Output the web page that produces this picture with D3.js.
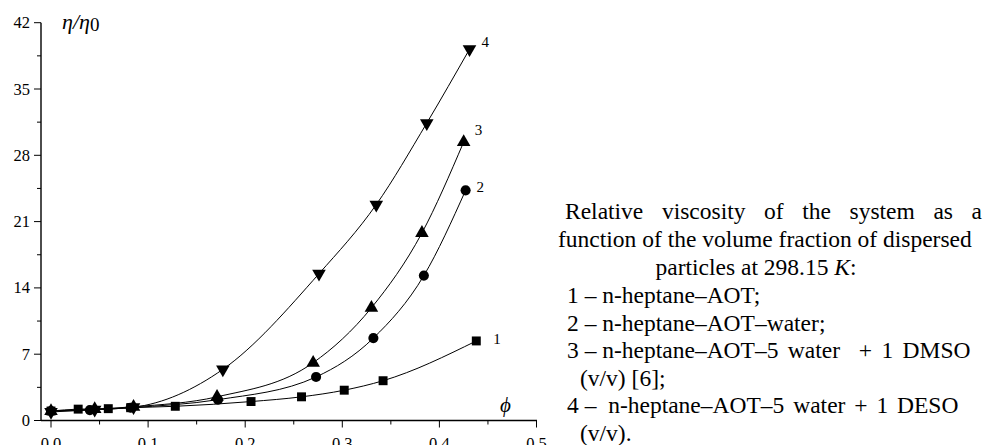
<!DOCTYPE html>
<html>
<head>
<meta charset="utf-8">
<script src="https://cdn.jsdelivr.net/npm/d3@7"></script>
<style>
  body { margin: 0; background: #fff; }
  svg { display: block; font-family: "Liberation Serif", "Times New Roman", serif; }
</style>
</head>
<body>
<svg id="chart" width="985" height="445"></svg>
<script>
// Volume fraction (phi) and relative viscosity for each system
const phi1 = [0, 0.028, 0.059, 0.082, 0.128, 0.206, 0.258, 0.302, 0.342, 0.438];
const eta1 = [1.0, 1.2, 1.25, 1.35, 1.5, 2.0, 2.5, 3.2, 4.2, 8.4];

const phi2 = [0, 0.04, 0.082, 0.172, 0.273, 0.332, 0.384, 0.427];
const eta2 = [1.0, 1.1, 1.35, 2.2, 4.6, 8.7, 15.3, 24.3];

const phi3 = [0, 0.045, 0.085, 0.171, 0.27, 0.33, 0.382, 0.425];
const eta3 = [1.0, 1.2, 1.45, 2.5, 6.1, 11.9, 19.8, 29.4];

const phi4 = [0, 0.045, 0.085, 0.177, 0.276, 0.335, 0.387, 0.431];
const eta4 = [0.9, 1.15, 1.4, 5.4, 15.5, 22.8, 31.4, 39.2];

const seriesNames = ['1', '2', '3', '4'];
const xTicks = [0, 0.1, 0.2, 0.3, 0.4, 0.5];
const yTicks = [0, 7, 14, 21, 28, 35, 42];

const caption = [
    'Relative viscosity of the system as a',
    'function of the volume fraction of dispersed'
];
// each legend line: [head, tail]; the tail is set with wider word gaps
const legendLines = [
    ['1 – n-heptane–AOT;', ''],
    ['2 – n-heptane–AOT–water;', ''],
    ['3 – n-heptane–AOT–', '5 water  + 1 DMSO'],
    ['(v/v) [6];', ''],
    ['4 –  n-heptane–AOT–', '5 water + 1 DESO'],
    ['(v/v).', '']
];

const svg = d3.select('#chart');

const x = d3.scaleLinear().domain([0, 0.5]).range([51, 536.5]);
const y = d3.scaleLinear().domain([0, 42]).range([420.5, 22.7]);

// x axis line (starts at the y axis)
svg.append('line')
    .attr('x1', 41).attr('x2', 537)
    .attr('y1', y(0)).attr('y2', y(0))
    .attr('stroke', '#000').attr('stroke-width', 1.4);

// y axis line
svg.append('line')
    .attr('x1', 41).attr('x2', 41)
    .attr('y1', y(0)).attr('y2', y(42))
    .attr('stroke', '#000').attr('stroke-width', 1.4);

// x ticks
const xMinor = d3.range(0.05, 0.5, 0.1);
svg.selectAll('.xt').data(xTicks).enter().append('line')
    .attr('x1', d => x(d)).attr('x2', d => x(d))
    .attr('y1', y(0)).attr('y2', y(0) + 7)
    .attr('stroke', '#000');
svg.selectAll('.xm').data(xMinor).enter().append('line')
    .attr('x1', d => x(d)).attr('x2', d => x(d))
    .attr('y1', y(0)).attr('y2', y(0) + 4)
    .attr('stroke', '#000');
svg.selectAll('.xl').data(xTicks).enter().append('text')
    .attr('x', d => x(d)).attr('y', 448.5)
    .attr('text-anchor', 'middle')
    .attr('font-size', 16.5)
    .text(d => d.toFixed(1));

// y ticks
const yMinor = d3.range(3.5, 42, 7);
svg.selectAll('.yt').data(yTicks).enter().append('line')
    .attr('x1', 34).attr('x2', 41)
    .attr('y1', d => y(d)).attr('y2', d => y(d))
    .attr('stroke', '#000');
svg.selectAll('.ym').data(yMinor).enter().append('line')
    .attr('x1', 37).attr('x2', 41)
    .attr('y1', d => y(d)).attr('y2', d => y(d))
    .attr('stroke', '#000');
svg.selectAll('.yl').data(yTicks).enter().append('text')
    .attr('x', 30).attr('y', d => y(d) + 5.5)
    .attr('text-anchor', 'end')
    .attr('font-size', 16.5)
    .text(d => d);

// axis titles
const yTitle = svg.append('text')
    .attr('x', 62).attr('y', 29)
    .attr('font-size', 22)
    .attr('font-style', 'italic');
yTitle.append('tspan').text('η/η');
yTitle.append('tspan').attr('font-style', 'normal').attr('font-size', 19).attr('dy', 2).text('0');

svg.append('text')
    .attr('x', 500).attr('y', 412)
    .attr('font-size', 21)
    .attr('font-style', 'italic')
    .text('ϕ');

// series
const series = [
    { phi: phi1, eta: eta1, symbol: d3.symbolSquare, size: 80, rot: 0, lx: 17, ly: 3 },
    { phi: phi2, eta: eta2, symbol: d3.symbolCircle, size: 80, rot: 0, lx: 11, ly: 2 },
    { phi: phi3, eta: eta3, symbol: d3.symbolTriangle, size: 80, rot: 0, lx: 11, ly: -7 },
    { phi: phi4, eta: eta4, symbol: d3.symbolTriangle, size: 80, rot: 180, lx: 12, ly: -2 }
];

const line = d3.line()
    .x(d => x(d[0]))
    .y(d => y(d[1]))
    .curve(d3.curveMonotoneX);

series.forEach((s, i) => {
    const pts = s.phi.map((p, j) => [p, s.eta[j]]);

    svg.append('path')
        .datum(pts)
        .attr('fill', 'none')
        .attr('stroke', '#000')
        .attr('stroke-width', 1)
        .attr('d', line);

    svg.selectAll('.m' + i).data(pts).enter().append('path')
        .attr('d', d3.symbol().type(s.symbol).size(s.size))
        .attr('transform', d => `translate(${x(d[0])},${y(d[1])}) rotate(${s.rot})`)
        .attr('fill', '#000');

    const last = pts[pts.length - 1];
    svg.append('text')
        .attr('x', x(last[0]) + s.lx)
        .attr('y', y(last[1]) + s.ly)
        .attr('font-size', 15)
        .text(seriesNames[i]);
});

// caption
const cap = svg.append('g').attr('font-size', 23.5);
const first = cap.append('text')
    .attr('x', 565).attr('y', 219)
    .text(caption[0]);
// justify the first line with word spacing, as in the reference
const natural = first.node().getComputedTextLength();
const gaps = caption[0].split(' ').length - 1;
first.attr('word-spacing', Math.max(0, (417 - natural) / gaps));

cap.append('text')
    .attr('x', 558).attr('y', 247)
    .text(caption[1]);
const third = cap.append('text')
    .attr('x', 756).attr('y', 275)
    .attr('text-anchor', 'middle');
third.append('tspan').text('particles at 298.15 ');
third.append('tspan').attr('font-style', 'italic').text('K');
third.append('tspan').text(':');

const legendX = [567, 567, 567, 580, 567, 580];
const legendGap = [0, 0, 3.5, 0, 3, 0];
const lg = cap.selectAll('.lg').data(legendLines).enter().append('text')
    .attr('x', (d, i) => legendX[i])
    .attr('y', (d, i) => 303 + i * 27.6)
    .style('white-space', 'pre');
lg.append('tspan').text(d => d[0]);
lg.append('tspan')
    .attr('word-spacing', (d, i) => legendGap[i])
    .text(d => d[1]);
</script>
</body>
</html>
